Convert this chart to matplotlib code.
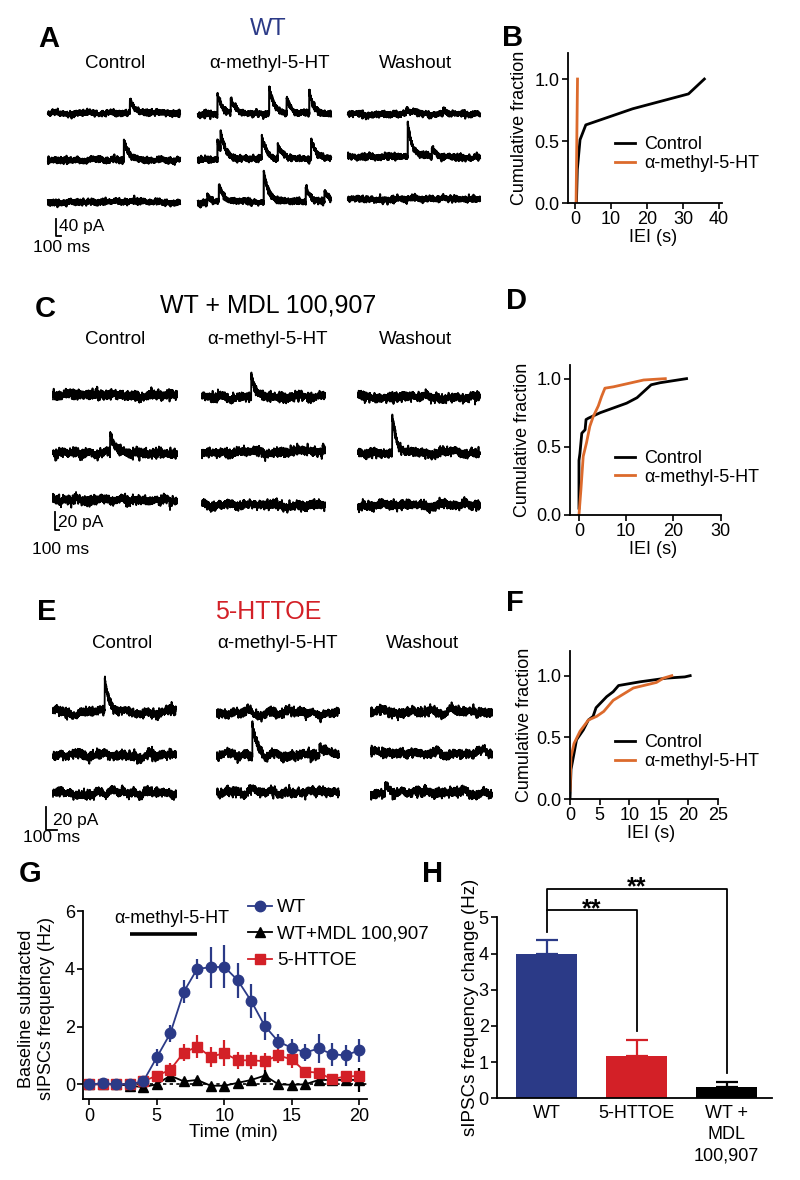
import numpy as np
import matplotlib
matplotlib.use('Agg')
import matplotlib.pyplot as plt

plt.rcParams['font.family'] = ['Liberation Sans', 'DejaVu Sans']

W, H = 800, 1180
NAVY = '#2b3a87'
RED = '#d32027'
ORANGE = '#dc6a2c'

# ---------------- data ----------------
cond_labels = ['Control', 'α-methyl-5-HT', 'Washout']
cdf_labels = ['Control', 'α-methyl-5-HT']

# example traces: events as (position along sweep, amplitude pA) per [condition][sweep]
wt_events = [
    [[(0.62, 33)], [(0.575, 47)], []],
    [[(0.146, 47), (0.246, 33), (0.535, 66), (0.666, 40), (0.837, 52)],
     [(0.146, 47), (0.17, 42), (0.48, 52), (0.60, 33), (0.85, 49)],
     [(0.07, 21), (0.157, 40), (0.494, 73), (0.81, 38), (0.95, 28)]],
    [[(0.44, 9), (0.72, 12)], [(0.453, 80), (0.635, 24)], []],
]
mdl_events = [
    [[], [(0.46, 22)], []],
    [[(0.40, 27)], [(0.98, 7)], []],
    [[], [(0.28, 42)], []],
]
oe_events = [
    [[(0.42, 29)], [], []],
    [[], [(0.29, 27), (0.84, 10)], []],
    [[], [], [(0.115, 11)]],
]

# cumulative IEI distributions
b_ctrl_x = [0.4, 0.65, 1.4, 3.0, 16.0, 31.5, 35.9]
b_ctrl_y = [0.0, 0.27, 0.51, 0.63, 0.76, 0.88, 1.0]
b_drug_x = [0.3, 0.5, 0.7]
b_drug_y = [0.0, 0.5, 1.0]

d_ctrl_x = [0.0, 0.0, 0.2, 0.6, 1.3, 1.5, 2.0, 4.5, 10.1, 12.3, 15.3, 17.2, 22.8]
d_ctrl_y = [0.05, 0.40, 0.45, 0.60, 0.625, 0.70, 0.71, 0.75, 0.82, 0.86, 0.955, 0.97, 1.0]
d_drug_x = [0.0, 0.4, 0.9, 1.6, 2.3, 3.0, 4.1, 4.8, 5.5, 7.3, 13.7, 18.3]
d_drug_y = [0.0, 0.18, 0.43, 0.53, 0.65, 0.72, 0.80, 0.87, 0.93, 0.94, 0.99, 1.0]

f_ctrl_x = [0.0, 0.17, 0.68, 1.1, 2.25, 3.1, 3.9, 4.4, 6.2, 7.3, 8.2, 11.8, 16.3, 19.4, 20.3]
f_ctrl_y = [0.0, 0.24, 0.37, 0.48, 0.56, 0.64, 0.67, 0.74, 0.83, 0.87, 0.92, 0.95, 0.98, 0.99, 1.0]
f_drug_x = [0.0, 0.17, 0.68, 1.7, 3.1, 4.5, 5.7, 7.3, 10.7, 14.6, 15.8, 17.2]
f_drug_y = [0.07, 0.34, 0.45, 0.55, 0.64, 0.67, 0.71, 0.80, 0.90, 0.945, 0.98, 1.0]

# time course (G)
time_min = list(range(21))
wt_mean = [0, 0.03, 0, 0, 0.1, 0.93, 1.76, 3.2, 4.0, 4.05, 4.07, 3.6, 2.88, 2.02, 1.48, 1.26, 1.1, 1.24, 1.04, 1.0, 1.18]
wt_sem = [0.05, 0.05, 0.05, 0.05, 0.1, 0.3, 0.3, 0.4, 0.35, 0.7, 0.75, 0.6, 0.6, 0.5, 0.25, 0.3, 0.3, 0.5, 0.4, 0.35, 0.4]
mdl_mean = [0, 0, 0, -0.05, -0.1, 0, 0.3, 0.1, 0.15, -0.05, -0.05, 0.05, 0.15, 0.3, 0, -0.02, 0, 0.15, 0.15, 0.15, 0.15]
mdl_sem = [0.03, 0.03, 0.03, 0.05, 0.05, 0.05, 0.15, 0.1, 0.1, 0.05, 0.05, 0.08, 0.1, 0.2, 0.05, 0.05, 0.05, 0.1, 0.1, 0.1, 0.4]
oe_mean = [0, 0, 0, 0, 0.1, 0.3, 0.5, 1.1, 1.3, 0.95, 1.08, 0.83, 0.83, 0.8, 1.0, 0.86, 0.44, 0.4, 0.17, 0.28, 0.28]
oe_sem = [0.03, 0.03, 0.03, 0.03, 0.05, 0.15, 0.25, 0.3, 0.4, 0.35, 0.45, 0.3, 0.3, 0.3, 0.25, 0.3, 0.15, 0.12, 0.12, 0.15, 0.15]
g_series = ['WT', 'WT+MDL 100,907', '5-HTTOE']
drug_window = [3, 8]

# summary (H)
h_groups = ['WT', '5-HTTOE', 'WT +\nMDL\n100,907']
h_mean = [3.98, 1.17, 0.32]
h_sem = [0.38, 0.43, 0.13]

# ---------------- figure ----------------
fig = plt.figure(figsize=(W / 100, H / 100), dpi=100)
ov = fig.add_axes([0, 0, 1, 1])
ov.set_xlim(0, W)
ov.set_ylim(H, 0)
ov.axis('off')


def px_axes(l, t, r, b):
    return fig.add_axes([l / W, 1 - b / H, (r - l) / W, (b - t) / H])


def style(ax, fs=13):
    for s in ('top', 'right'):
        ax.spines[s].set_visible(False)
    for s in ('left', 'bottom'):
        ax.spines[s].set_linewidth(1.3)
    ax.tick_params(labelsize=fs, length=4, width=1.2, pad=2)


rng = np.random.default_rng(7)


def draw_trace(x0, x1, y0, events, px_per_pa, noise, wander, lw):
    n = 1400
    t = np.linspace(0, 1, n)
    y = rng.normal(0, noise, n)
    w = np.convolve(rng.normal(0, 1, n + 90), np.ones(90) / 90, mode='valid')[:n]
    w = (w - w.mean()) / (w.std() + 1e-9) * wander
    y = y + w
    for f, a in events:
        d = t - f
        y = y + np.where(d >= 0, a * px_per_pa * np.exp(-np.clip(d, 0, None) / 0.035), 0)
    ov.plot(x0 + t * (x1 - x0), y0 - y, color='k', lw=lw)


def trace_block(events, cols, rows, px_per_pa, noise, wander, lw):
    for ci in range(3):
        for ri in range(3):
            draw_trace(cols[ci][0], cols[ci][1], rows[ci][ri], events[ci][ri],
                       px_per_pa, noise, wander, lw)


def scalebar(x, ytop, ybot, xr, txt, tx, ty, msy):
    ov.plot([x, x, xr], [ytop, ybot, ybot], color='k', lw=1.3)
    ov.text(tx, ty, txt, fontsize=12.5, ha='left', va='center')
    ov.text(x + 6, msy, '100 ms', fontsize=12.5, ha='center', va='center')


def letter(x, y, s):
    ov.text(x, y, s, fontsize=21, fontweight='bold', ha='center', va='center')


# ---- A ----
letter(49, 39, 'A')
ov.text(268, 29, 'WT', color=NAVY, fontsize=17, ha='center', va='center')
for cx, lab in zip([115, 270, 415], cond_labels):
    ov.text(cx, 63, lab, fontsize=13.5, ha='center', va='center')
trace_block(wt_events, [(48, 180), (198, 331), (348, 480)],
            [(113, 160, 202), (114, 159, 202), (114, 157, 199)], 0.425, 1.4, 0.6, 1.5)
scalebar(55.7, 219, 236, 60.7, '40 pA', 59, 227, 248)

# ---- C ----
letter(45, 309, 'C')
ov.text(268, 305, 'WT + MDL 100,907', fontsize=18, ha='center', va='center')
for cx, lab in zip([115, 267, 415], cond_labels):
    ov.text(cx, 339, lab, fontsize=13.5, ha='center', va='center')
trace_block(mdl_events, [(53, 177), (202, 325), (358, 480)],
            [(395, 453, 500), (397, 452, 505), (397, 453, 505)], 0.9, 2.1, 1.0, 1.3)
scalebar(55, 512, 530, 59, '20 pA', 58, 522, 549)

# ---- E ----
letter(47, 612, 'E')
ov.text(268, 612, '5-HTTOE', color=RED, fontsize=18, ha='center', va='center')
for cx, lab in zip([122, 278, 422], cond_labels):
    ov.text(cx, 643, lab, fontsize=13.5, ha='center', va='center')
trace_block(oe_events, [(53, 176), (217, 339), (371, 492)],
            [(712, 755, 793), (713, 755, 792), (712, 753, 793)], 1.15, 2.0, 1.6, 1.3)
scalebar(45.7, 807, 830, 57, '20 pA', 53, 820, 838)


# ---- cumulative panels ----
def cdf_panel(box, xlim, ylim, xticks, cx, cy, dx, dy, leg_xy, ylab_x):
    ax = px_axes(*box)
    style(ax)
    ax.plot(cx, cy, color='k', lw=2.0, label=cdf_labels[0])
    ax.plot(dx, dy, color=ORANGE, lw=2.0, label=cdf_labels[1])
    ax.set_xlim(*xlim)
    ax.set_ylim(*ylim)
    ax.set_xticks(xticks)
    ax.set_yticks([0, 0.5, 1.0])
    ax.set_yticklabels(['0.0', '0.5', '1.0'])
    ax.set_ylabel('Cumulative fraction', fontsize=13)
    ax.yaxis.set_label_coords(ylab_x, 0.5)
    ax.set_xlabel('IEI (s)', fontsize=13)
    ax.xaxis.set_label_coords(0.55, -0.175)
    ax.legend(loc='center left', bbox_to_anchor=leg_xy, frameon=False, fontsize=13,
              handlelength=1.1, handletextpad=0.5, borderpad=0, borderaxespad=0,
              labelspacing=0.1)
    return ax


letter(513, 38, 'B')
cdf_panel((568, 53, 722, 203), (-1.94, 40.8), (0, 1.21), [0, 10, 20, 30, 40],
          b_ctrl_x, b_ctrl_y, b_drug_x, b_drug_y, (0.305, 0.327), -0.26)
letter(516, 301, 'D')
cdf_panel((570, 365, 721, 515), (-1.9, 30.1), (0, 1.10), [0, 10, 20, 30],
          d_ctrl_x, d_ctrl_y, d_drug_x, d_drug_y, (0.30, 0.314), -0.255)
letter(515, 603, 'F')
cdf_panel((570, 651, 718, 799), (0, 25), (0, 1.2), [0, 5, 10, 15, 20, 25],
          f_ctrl_x, f_ctrl_y, f_drug_x, f_drug_y, (0.304, 0.317), -0.25)

# ---- G ----
letter(30, 874, 'G')
axg = px_axes(83.3, 911, 366.7, 1099.3)
style(axg)
axg.axhline(0, color='k', ls=(0, (2, 2)), lw=1.2, zorder=1)
series = [
    (mdl_mean, mdl_sem, 'k', '^', 7),
    (oe_mean, oe_sem, RED, 's', 7.5),
    (wt_mean, wt_sem, NAVY, 'o', 7.5),
]
handles = {}
for (m, s, c, mk, ms), name in zip(series, [g_series[1], g_series[2], g_series[0]]):
    eb = axg.errorbar(time_min, m, yerr=s, color=c, marker=mk, ms=ms, mec=c, mfc=c,
                      lw=1.3, elinewidth=1.6, capsize=0, zorder=3)
    handles[name] = eb[0]
axg.set_xlim(-0.44, 20.55)
axg.set_ylim(-0.52, 6)
axg.set_xticks([0, 5, 10, 15, 20])
axg.set_yticks([0, 2, 4, 6])
axg.plot(drug_window, [5.2, 5.2], color='k', lw=2.6, clip_on=False, solid_capstyle='butt')
axg.text(6.1, 5.75, 'α-methyl-5-HT', fontsize=13, ha='center', va='center')
axg.set_xlabel('Time (min)', fontsize=13.5)
axg.xaxis.set_label_coords(0.528, -0.13)
axg.set_ylabel('Baseline subtracted\nsIPSCs frequency (Hz)', fontsize=13, linespacing=1.25)
axg.yaxis.set_label_coords(-0.10, 0.48)
axg.legend([handles[n] for n in g_series], g_series, loc='center left',
           bbox_to_anchor=(0.581, 0.877), frameon=False, fontsize=13.5,
           handlelength=1.3, handletextpad=0.25, borderpad=0, borderaxespad=0,
           labelspacing=0.5)

# ---- H ----
letter(433, 874, 'H')
axh = px_axes(497, 917.3, 771.7, 1098.3)
style(axh)
xs = np.arange(len(h_groups))
cols = [NAVY, RED, 'k']
axh.bar(xs, h_mean, width=0.68, color=cols, zorder=2)
for xi, m, s, c in zip(xs, h_mean, h_sem, cols):
    axh.errorbar([xi], [m], yerr=[[0], [s]], fmt='none', ecolor=c, elinewidth=1.6,
                 capsize=8, capthick=1.6, zorder=3)
axh.set_xlim(-0.55, 2.5)
axh.set_ylim(0, 5)
axh.set_yticks([0, 1, 2, 3, 4, 5])
axh.set_xticks(xs)
axh.set_xticklabels(h_groups, fontsize=13, linespacing=1.3)
axh.tick_params(axis='x', length=0, pad=5)
axh.set_ylabel('sIPSCs frequency change (Hz)', fontsize=13.5)
axh.yaxis.set_label_coords(-0.065, 0.5)
axh.plot([0, 0, 1, 1], [4.6, 5.2, 5.2, 1.87], color='k', lw=1.3, clip_on=False)
axh.plot([0, 0, 2, 2], [5.2, 5.79, 5.79, 0.71], color='k', lw=1.3, clip_on=False)
axh.text(0.5, 5.03, '**', fontsize=18, fontweight='bold', ha='center', va='baseline')
axh.text(1.0, 5.63, '**', fontsize=18, fontweight='bold', ha='center', va='baseline')

fig.savefig('out.png', dpi=100)
